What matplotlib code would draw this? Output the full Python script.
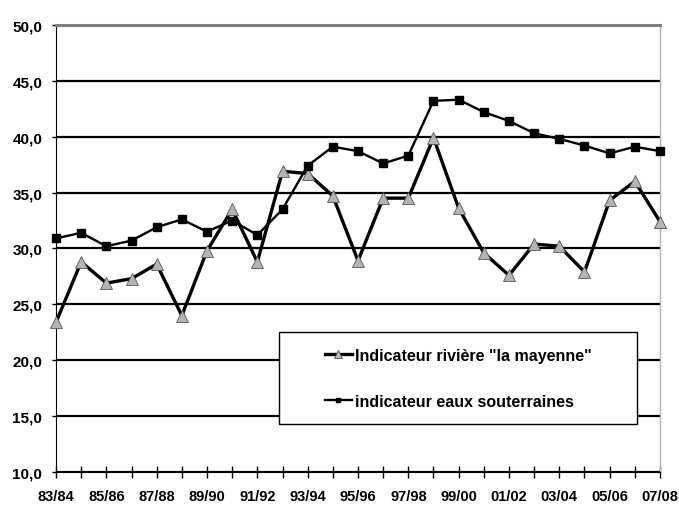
import matplotlib
matplotlib.use("Agg")
import matplotlib.pyplot as plt
from matplotlib.patches import Rectangle

# ---------------------------------------------------------------------------
# Data
# ---------------------------------------------------------------------------
SEASONS = ["83/84", "84/85", "85/86", "86/87", "87/88", "88/89", "89/90",
           "90/91", "91/92", "92/93", "93/94", "94/95", "95/96", "96/97",
           "97/98", "98/99", "99/00", "00/01", "01/02", "02/03", "03/04",
           "04/05", "05/06", "06/07", "07/08"]

RIVIERE = [23.4, 28.8, 26.9, 27.3, 28.6, 24.0, 29.8, 33.5, 28.8, 36.9,
           36.7, 34.7, 28.9, 34.5, 34.5, 39.9, 33.6, 29.6, 27.6, 30.4,
           30.2, 27.9, 34.3, 36.0, 32.4]

SOUTERRAINES = [30.9, 31.4, 30.2, 30.7, 31.9, 32.6, 31.5, 32.5, 31.2, 33.5,
                37.4, 39.1, 38.7, 37.6, 38.3, 43.2, 43.3, 42.2, 41.4, 40.3,
                39.8, 39.2, 38.5, 39.1, 38.7]

LABEL_RIVIERE = 'Indicateur rivière "la mayenne"'
LABEL_SOUT = "indicateur eaux souterraines"

Y_TICKS = [10, 15, 20, 25, 30, 35, 40, 45, 50]

plt.rcParams.update({
    "font.family": "Liberation Sans",
    "font.weight": "bold",
    "font.size": 11,
})

fig = plt.figure(figsize=(6.79, 5.06), dpi=100)
ax = fig.add_axes([0.0825, 0.065, 0.8895, 0.884])

x = list(range(len(SEASONS)))

ax.plot(x, RIVIERE, color="black", linewidth=2.4, marker="^", markersize=8.5,
        markerfacecolor="#b4b4b4", markeredgecolor="#555555", markeredgewidth=0.6,
        label=LABEL_RIVIERE, clip_on=False, zorder=4)
ax.plot(x, SOUTERRAINES, color="black", linewidth=1.7, marker="s", markersize=5.5,
        markerfacecolor="black", markeredgecolor="black",
        label=LABEL_SOUT, clip_on=False, zorder=5)

ax.set_xlim(0, len(SEASONS) - 1)
ax.set_ylim(10, 50)

ax.set_xticks(x)
ax.set_xticklabels([s if i % 2 == 0 else "" for i, s in enumerate(SEASONS)])
ax.set_yticks(Y_TICKS)
ax.set_yticklabels([f"{v:.1f}".replace(".", ",") for v in Y_TICKS])

ax.tick_params(axis="x", direction="inout", length=8, width=1, pad=8, labelsize=10.5)
ax.tick_params(axis="y", direction="out", length=3, width=1, pad=7, labelsize=11)

ax.yaxis.grid(True, color="black", linewidth=1.6)
ax.set_axisbelow(True)

ax.spines["left"].set_color("black")
ax.spines["bottom"].set_color("black")
ax.spines["top"].set_color("#808080")
ax.spines["top"].set_linewidth(2.2)
ax.spines["right"].set_color("#b0b0b0")
ax.spines["right"].set_linewidth(1.0)

# legend box (opaque, covers the grid)
ax.add_patch(Rectangle((0.369, 0.107), 0.593, 0.206, transform=ax.transAxes,
                       facecolor="white", edgecolor="black", linewidth=1.0, zorder=6))
leg = ax.legend(loc="center", bbox_to_anchor=(0.666, 0.210), frameon=False,
                handlelength=1.7, handletextpad=0.2, labelspacing=1.95,
                markerscale=0.6, fontsize=11.5)
leg.set_zorder(7)

fig.savefig("out.png", dpi=100)
